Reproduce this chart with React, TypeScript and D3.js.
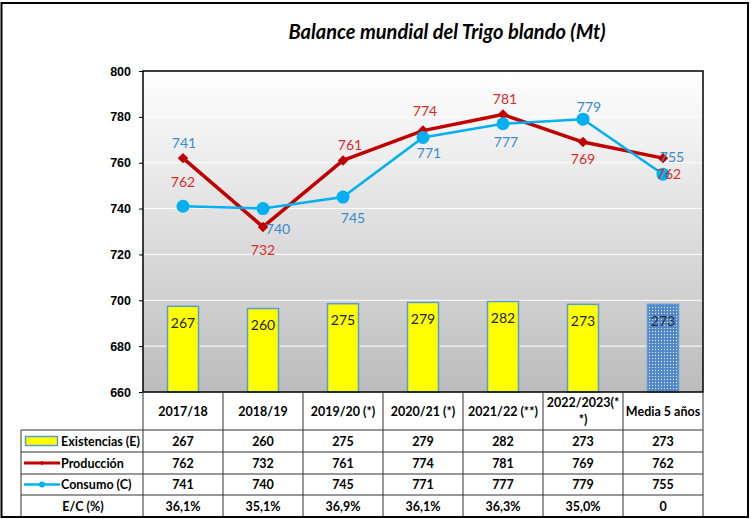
import React, { useEffect, useRef } from "react";
import * as d3 from "d3";

const categories = ["2017/18", "2018/19", "2019/20 (*)", "2020/21 (*)", "2021/22 (**)", "2022/2023(**)", "Media 5 años"];
const headerLines = [["2017/18"], ["2018/19"], ["2019/20 (*)"], ["2020/21 (*)"], ["2021/22 (**)"], ["2022/2023(*", "*)"], ["Media 5 años"]];
const existencias = [267, 260, 275, 279, 282, 273, 273];
const produccion = [762, 732, 761, 774, 781, 769, 762];
const consumo = [741, 740, 745, 771, 777, 779, 755];
const ratioEC = ["36,1%", "35,1%", "36,9%", "36,1%", "36,3%", "35,0%", "0"];
const yTicks = [660, 680, 700, 720, 740, 760, 780, 800];

// offsets of the data labels from their point (px)
const prodLabelOffsets = [[0, 23], [0, 23], [7, -16], [2, -20], [2, -16], [0, 16], [6, 15]];
const consLabelOffsets = [[1, -64], [15, 20], [10, 20], [6, 15], [3, 18], [6, -13], [9, -18]];

const W = 751;
const H = 519;
const CAL = "Lato, 'Noto Sans', sans-serif";

const App = () => {
  const ref = useRef(null);

  useEffect(() => {
    const svg = d3.select(ref.current);
    svg.selectAll("*").remove();

    const plot = { left: 143, right: 703, top: 71, bottom: 392 };
    const rows = [430, 452, 474, 495, 517];
    const tableLeft = 21;

    const x = d3.scaleBand().domain(categories).range([plot.left, plot.right]).paddingInner(0).paddingOuter(0);
    const cx = (i) => x(categories[i]) + x.bandwidth() / 2;
    const y = d3.scaleLinear().domain([660, 800]).range([plot.bottom, plot.top]);
    const y2 = d3.scaleLinear().domain([0, 1000]).range([plot.bottom, plot.top]);

    const defs = svg.append("defs");
    const grad = defs.append("linearGradient").attr("id", "bg").attr("x1", 0).attr("y1", 0).attr("x2", 0).attr("y2", 1);
    grad.append("stop").attr("offset", "0%").attr("stop-color", "#ffffff");
    grad.append("stop").attr("offset", "100%").attr("stop-color", "#bcbcbc");
    const pat = defs.append("pattern").attr("id", "dots").attr("width", 3).attr("height", 3).attr("patternUnits", "userSpaceOnUse");
    pat.append("rect").attr("width", 3).attr("height", 3).attr("fill", "#4f85c6");
    pat.append("circle").attr("cx", 1.5).attr("cy", 1.5).attr("r", 0.7).attr("fill", "#dbe7f5");

    svg.append("rect").attr("width", W).attr("height", H).attr("fill", "#fff");

    // ===== Title =====
    svg.append("text")
      .attr("x", 447).attr("y", 31)
      .attr("text-anchor", "middle").attr("dominant-baseline", "central")
      .style("font-family", CAL).style("font-size", "20px")
      .style("font-weight", "bold").style("font-style", "italic")
      .text("Balance mundial del Trigo blando (Mt)");

    // ===== Plot area =====
    svg.append("rect")
      .attr("x", plot.left).attr("y", plot.top)
      .attr("width", plot.right - plot.left).attr("height", plot.bottom - plot.top)
      .attr("fill", "url(#bg)");

    yTicks.slice(1, -1).forEach(t => {
      svg.append("line")
        .attr("x1", plot.left).attr("x2", plot.right)
        .attr("y1", y(t)).attr("y2", y(t))
        .attr("stroke", "#fff").attr("stroke-width", 1);
    });

    const yAxis = svg.append("g")
      .attr("transform", `translate(${plot.left},0)`)
      .call(d3.axisLeft(y).tickValues(yTicks).tickSize(4).tickPadding(8));
    yAxis.select(".domain").remove();
    yAxis.selectAll("line").attr("stroke", "#000");
    yAxis.selectAll("text")
      .style("font-family", "'Liberation Sans', Arial, sans-serif")
      .style("font-size", "12.5px").style("font-weight", "bold").attr("fill", "#000");

    // ===== Bars =====
    existencias.forEach((v, i) => {
      const bw = 31;
      const last = i === existencias.length - 1;
      svg.append("rect")
        .attr("x", cx(i) - bw / 2).attr("y", y2(v))
        .attr("width", bw).attr("height", plot.bottom - y2(v))
        .attr("fill", last ? "url(#dots)" : "#ffff00")
        .attr("stroke", "#5b9bd5").attr("stroke-width", 1.5);
      svg.append("text")
        .attr("x", cx(i)).attr("y", y2(v) + 16)
        .attr("text-anchor", "middle").attr("dominant-baseline", "central")
        .style("font-family", CAL).style("font-size", "14px")
        .attr("fill", last ? "#1f2d40" : "#222")
        .text(v);
    });

    // ===== Lines =====
    const line = d3.line().x((d, i) => cx(i)).y(d => y(d));

    svg.append("path").datum(produccion)
      .attr("fill", "none").attr("stroke", "#c00000").attr("stroke-width", 3.5)
      .attr("stroke-linejoin", "round").attr("d", line);
    produccion.forEach((v, i) => {
      svg.append("path")
        .attr("d", d3.symbol(d3.symbolDiamond2, 70)())
        .attr("transform", `translate(${cx(i)},${y(v)})`)
        .attr("fill", "#c00000");
    });

    svg.append("path").datum(consumo)
      .attr("fill", "none").attr("stroke", "#00b0f0").attr("stroke-width", 2.5)
      .attr("d", line);
    consumo.forEach((v, i) => {
      svg.append("circle")
        .attr("cx", cx(i)).attr("cy", y(v)).attr("r", 6.5)
        .attr("fill", "#00b0f0");
    });

    // ===== Data labels =====
    produccion.forEach((v, i) => {
      const [dx, dy] = prodLabelOffsets[i];
      svg.append("text")
        .attr("x", cx(i) + dx).attr("y", y(v) + dy)
        .attr("text-anchor", "middle").attr("dominant-baseline", "central")
        .style("font-family", CAL).style("font-size", "14px")
        .attr("fill", "#d92b2b").text(v);
    });
    consumo.forEach((v, i) => {
      const [dx, dy] = consLabelOffsets[i];
      svg.append("text")
        .attr("x", cx(i) + dx).attr("y", y(v) + dy)
        .attr("text-anchor", "middle").attr("dominant-baseline", "central")
        .style("font-family", CAL).style("font-size", "14px")
        .attr("fill", "#3a8ad0").text(v);
    });

    // plot frame
    svg.append("rect")
      .attr("x", plot.left).attr("y", plot.top)
      .attr("width", plot.right - plot.left).attr("height", plot.bottom - plot.top)
      .attr("fill", "none").attr("stroke", "#000").attr("stroke-width", 1.5);

    // ===== Data table =====
    const grid = svg.append("g").attr("stroke", "#333").attr("stroke-width", 1);
    x.domain().forEach(c => {
      grid.append("line").attr("x1", x(c)).attr("x2", x(c)).attr("y1", plot.bottom).attr("y2", rows[4]);
    });
    grid.append("line").attr("x1", plot.right).attr("x2", plot.right).attr("y1", plot.bottom).attr("y2", rows[4]);
    grid.append("line").attr("x1", tableLeft).attr("x2", tableLeft).attr("y1", rows[0]).attr("y2", rows[4]);
    rows.slice(0, 4).forEach(r => {
      grid.append("line").attr("x1", tableLeft).attr("x2", plot.right).attr("y1", r).attr("y2", r);
    });

    const cellText = (g, tx, ty, txt, anchor = "middle") =>
      g.append("text")
        .attr("x", tx).attr("y", ty)
        .attr("text-anchor", anchor).attr("dominant-baseline", "central")
        .style("font-family", CAL).style("font-size", "12.5px")
        .style("font-weight", "bold").attr("fill", "#000")
        .text(txt);

    const tg = svg.append("g");
    headerLines.forEach((lines, i) => {
      const mid = (plot.bottom + rows[0]) / 2;
      lines.forEach((l, k) => {
        cellText(tg, cx(i), mid + (k - (lines.length - 1) / 2) * 17, l);
      });
    });

    const tableRows = [existencias, produccion, consumo, ratioEC];
    tableRows.forEach((vals, r) => {
      const mid = (rows[r] + rows[r + 1]) / 2;
      vals.forEach((v, i) => cellText(tg, cx(i), mid, v));
    });

    // legend keys
    const m0 = (rows[0] + rows[1]) / 2;
    const m1 = (rows[1] + rows[2]) / 2;
    const m2 = (rows[2] + rows[3]) / 2;
    const m3 = (rows[3] + rows[4]) / 2;
    tg.append("rect").attr("x", 25.5).attr("y", m0 - 4.5).attr("width", 32).attr("height", 9)
      .attr("fill", "#ffff00").attr("stroke", "#5b9bd5").attr("stroke-width", 1.5);
    cellText(tg, 61, m0, "Existencias (E)", "start");
    tg.append("line").attr("x1", 24).attr("x2", 60).attr("y1", m1).attr("y2", m1)
      .attr("stroke", "#c00000").attr("stroke-width", 3);
    tg.append("path").attr("d", d3.symbol(d3.symbolDiamond2, 14)())
      .attr("transform", `translate(42,${m1})`).attr("fill", "#c00000");
    cellText(tg, 61, m1, "Producción", "start");
    tg.append("line").attr("x1", 24).attr("x2", 60).attr("y1", m2).attr("y2", m2)
      .attr("stroke", "#00b0f0").attr("stroke-width", 2.5);
    tg.append("circle").attr("cx", 42).attr("cy", m2).attr("r", 3).attr("fill", "#00b0f0");
    cellText(tg, 61, m2, "Consumo (C)", "start");
    cellText(tg, 83, m3, "E/C (%)");

    // outer border
    svg.append("rect")
      .attr("x", 1.5).attr("y", 3).attr("width", 746.5).attr("height", 514)
      .attr("fill", "none").attr("stroke", "#000").attr("stroke-width", 2);
  }, []);

  return (
    <svg
      ref={ref}
      width={W}
      height={H}
      style={{ position: "absolute", left: 0, top: 0, display: "block" }}
    />
  );
};

export default App;
